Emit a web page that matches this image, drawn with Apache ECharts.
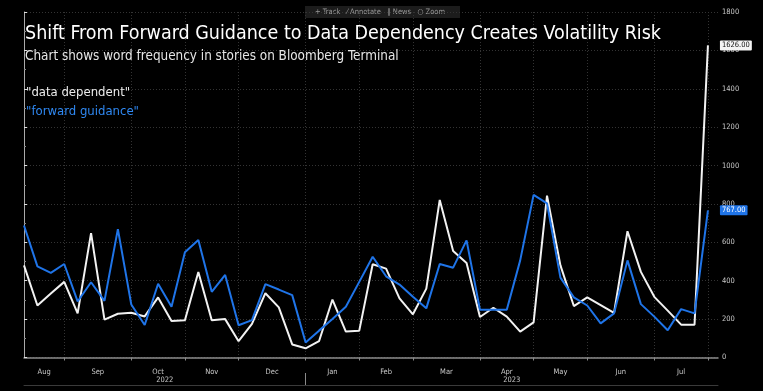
<!DOCTYPE html>
<html><head><meta charset="utf-8">
<script src="https://cdn.jsdelivr.net/npm/echarts@6/dist/echarts.min.js"></script>
<style>html,body{margin:0;padding:0;background:#000;}#c{width:763px;height:391px;}</style>
</head><body><div id="c"></div>
<script>
// Weekly observations (Fridays)
const weeks = ['2022-08-12','2022-08-19','2022-08-26','2022-09-02','2022-09-09','2022-09-16','2022-09-23','2022-09-30',
 '2022-10-07','2022-10-14','2022-10-21','2022-10-28','2022-11-04','2022-11-11','2022-11-18','2022-11-25',
 '2022-12-02','2022-12-09','2022-12-16','2022-12-23','2022-12-30','2023-01-06','2023-01-13','2023-01-20','2023-01-27',
 '2023-02-03','2023-02-10','2023-02-17','2023-02-24','2023-03-03','2023-03-10','2023-03-17','2023-03-24','2023-03-31',
 '2023-04-07','2023-04-14','2023-04-21','2023-04-28','2023-05-05','2023-05-12','2023-05-19','2023-05-26',
 '2023-06-02','2023-06-09','2023-06-16','2023-06-23','2023-06-30','2023-07-07','2023-07-14','2023-07-21','2023-07-28','2023-08-04'];

const dataDependent = [480,271,333,394,230,648,197,228,233,214,313,190,194,446,194,200,85,175,335,261,68,48,85,302,135,140,486,463,308,225,359,821,555,492,211,259,213,135,183,843,480,268,313,273,233,658,446,316,244,171,171,1626];
const forwardGuidance = [688,475,441,487,292,392,295,669,276,169,384,264,548,612,342,430,168,195,382,354,325,78,140,200,264,394,525,423,380,316,256,487,468,610,249,249,249,506,847,803,416,313,271,178,230,506,278,213,142,252,230,767];

const seriesNames = ['"data dependent"', '"forward guidance"'];
const monthNames = ['Jan','Feb','Mar','Apr','May','Jun','Jul','Aug','Sep','Oct','Nov','Dec'];
const yTicks = [0,200,400,600,800,1000,1200,1400,1600,1800];
const titleText = 'Shift From Forward Guidance to Data Dependency Creates Volatility Risk';
const subtitleText = 'Chart shows word frequency in stories on Bloomberg Terminal';

const xMax = weeks.length - 1 + 0.75;
const monthStarts = [];
for (let i = 1; i < weeks.length; i++) if (weeks[i].slice(5,7) !== weeks[i-1].slice(5,7)) monthStarts.push(i);
const segStarts = [0].concat(monthStarts);
const monthPos = [], monthText = {};
for (let k = 0; k < segStarts.length - 1; k++) {
  const c = (segStarts[k] + segStarts[k+1]) / 2;
  monthPos.push(c);
  monthText[c] = monthNames[+weeks[segStarts[k]].slice(5,7) - 1];
}
let yearBreak = weeks.findIndex(w => w.slice(0,4) !== weeks[0].slice(0,4));
const yearPos = [yearBreak / 2, (yearBreak + xMax) / 2];
const yearText = {}; yearText[yearPos[0]] = weeks[0].slice(0,4); yearText[yearPos[1]] = weeks[yearBreak].slice(0,4);

const toPairs = arr => arr.map((v, i) => [i, v]);
const FONT = '"DejaVu Sans Condensed", "DejaVu Sans", sans-serif';
const WHITE = '#f2f2f2', BLUE = '#1f74e8';

const chart = echarts.init(document.getElementById('c'));
chart.setOption({
  backgroundColor: '#000',
  animation: false,
  title: [
    {text: titleText, left: 25, top: 24, padding: 0, textStyle: {color: '#ffffff', fontFamily: FONT, fontSize: 19.5, fontWeight: 'normal'}},
    {text: subtitleText, left: 25, top: 50, padding: 0, textStyle: {color: '#e6e6e6', fontFamily: FONT, fontSize: 13.4, fontWeight: 'normal'}}
  ],
  legend: {
    orient: 'vertical', left: 21, top: 86, itemGap: 6, icon: 'none', itemWidth: 0, itemHeight: 13, padding: 0,
    selectedMode: false,
    textStyle: {fontFamily: FONT, fontSize: 13},
    data: [{name: seriesNames[0], textStyle: {color: '#ececec'}}, {name: seriesNames[1], textStyle: {color: '#2f88f2'}}]
  },
  graphic: [{
    type: 'group', left: 305, top: 6,
    children: [
      {type: 'rect', shape: {x: 0, y: 0, width: 155, height: 12}, style: {fill: '#1c1c1c'}},
      {type: 'text', left: 10, top: 2, style: {text: '+ Track   \u2044 Annotate   \u2016 News   \u25CB Zoom', fill: '#9a9a9a', font: '7.5px "DejaVu Sans Condensed"'}}
    ]
  }],
  grid: {left: 24, right: 45, top: 12, bottom: 33.5},
  xAxis: [{
    type: 'value', min: 0, max: xMax, offset: 8,
    axisLine: {show: true, lineStyle: {color: '#8a8a8a', width: 1.5}},
    axisTick: {show: true, customValues: monthStarts, length: 3, lineStyle: {color: '#8a8a8a'}},
    splitLine: {show: true, lineStyle: {color: '#333', type: [1, 2]}},
    axisLabel: {customValues: monthPos, formatter: v => monthText[v] || '', color: '#c8c8c8', fontFamily: FONT, fontSize: 7.5, margin: 3}
  }, {
    type: 'value', min: 0, max: xMax, offset: 27.5, position: 'bottom',
    axisLine: {show: true, lineStyle: {color: '#3a3a3a', width: 1}},
    axisTick: {show: true, customValues: [yearBreak], inside: true, length: 12, lineStyle: {color: '#8a8a8a'}},
    splitLine: {show: false},
    axisLabel: {inside: true, customValues: yearPos, formatter: v => yearText[v] || '', color: '#c8c8c8', fontFamily: FONT, fontSize: 7.5, margin: 1}
  }],
  yAxis: {
    type: 'value', position: 'right', min: 0, max: 1800, interval: 200,
    axisLine: {show: true, lineStyle: {color: '#aaaaaa'}},
    axisTick: {show: true, length: 3, lineStyle: {color: '#dddddd'}},
    minorTick: {show: true, splitNumber: 2, length: 2, lineStyle: {color: '#888'}},
    splitLine: {show: true, lineStyle: {color: '#333', type: [1, 2]}},
    axisLabel: {color: '#c8c8c8', fontFamily: FONT, fontSize: 7.5, margin: 4, formatter: v => yTicks.includes(v) ? String(v) : ''}
  },
  series: [{
    name: seriesNames[0], type: 'line', data: toPairs(dataDependent), symbol: 'none',
    lineStyle: {color: WHITE, width: 2}, itemStyle: {color: WHITE},
    endLabel: {show: true, formatter: p => p.value[1].toFixed(2), distance: 12, backgroundColor: '#f4f4f4', color: '#111',
      fontFamily: FONT, fontSize: 7.5, padding: [1, 2], borderRadius: 1}
  }, {
    name: seriesNames[1], type: 'line', data: toPairs(forwardGuidance), symbol: 'none',
    lineStyle: {color: BLUE, width: 2}, itemStyle: {color: BLUE},
    endLabel: {show: true, formatter: p => p.value[1].toFixed(2), distance: 12, backgroundColor: '#1f74e8', color: '#fff',
      fontFamily: FONT, fontSize: 7.5, padding: [1, 2], borderRadius: 1}
  }]
});
</script></body></html>
